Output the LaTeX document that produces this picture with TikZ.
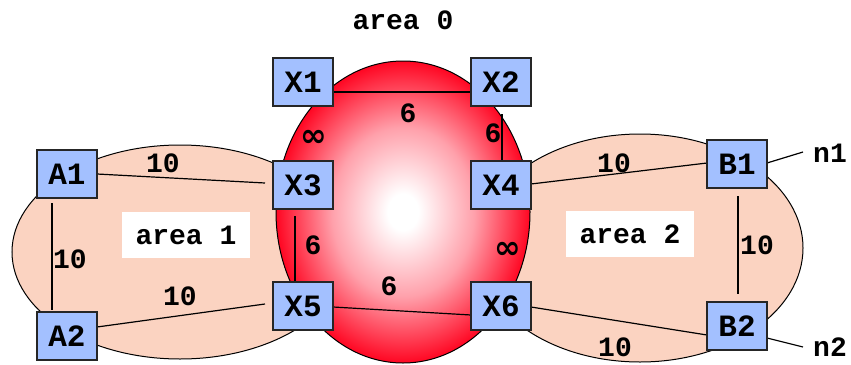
\documentclass[tikz,border=0pt]{standalone}
\usepackage{fontspec}
\setmonofont{Liberation Mono}
\newfontfamily\djv{DejaVu Sans}
\usetikzlibrary{backgrounds}
\definecolor{boxblue}{RGB}{163,192,255}
\definecolor{peach}{RGB}{251,211,193}
\definecolor{mred}{RGB}{255,6,34}
\colorlet{mpink}{mred!38!white}
\pgfdeclareradialshading{areazero}{\pgfpoint{0bp}{0bp}}{color(0bp)=(white); color(3bp)=(white); color(14bp)=(mpink); color(25bp)=(mred); color(50bp)=(mred)}
\tikzset{
  router/.style={draw=black!85, fill=boxblue, line width=1.1pt, minimum width=60pt, minimum height=48pt, inner sep=0pt, font=\ttfamily\bfseries\fontsize{31}{31}\selectfont},
  cost/.style={inner sep=0pt, font=\ttfamily\bfseries\fontsize{28}{28}\selectfont},
  inf/.style={inner sep=0pt, font=\djv\bfseries\fontsize{32}{32}\selectfont},
  arealbl/.style={fill=white, minimum width=128pt, minimum height=46pt, inner sep=0pt, font=\ttfamily\bfseries\fontsize{28}{28}\selectfont},
  link/.style={line width=1.2pt, black},
  areashape/.style={draw=black, line width=1pt, fill=peach}
}
\begin{document}
\begin{tikzpicture}[x=1pt,y=-1pt]
\useasboundingbox (0,0) rectangle (851,364);
% routers
\node[router] (X1) at (303,82) {X1};
\node[router] (X2) at (501,82) {X2};
\node[router] (X3) at (303,185) {X3};
\node[router] (X4) at (501,185) {X4};
\node[router] (X5) at (303,306) {X5};
\node[router] (X6) at (501,306) {X6};
\node[router] (A1) at (67,174) {A1};
\node[router] (A2) at (67,336) {A2};
\node[router] (B1) at (737,164) {B1};
\node[router] (B2) at (737,326) {B2};
\coordinate (n1c) at (803,152);
\coordinate (n2c) at (803,347);
\begin{scope}[on background layer]
% areas
\path[areashape] (180,252) ellipse [x radius=168pt, y radius=107pt];
\path[areashape] (640,248) ellipse [x radius=163pt, y radius=114pt];
\path[draw=black, line width=1pt, shading=areazero] (403,212) ellipse [x radius=127pt, y radius=151pt];
% links
\draw[link] ([shift={(30,0)}]A1.center) -- ([shift={(-38,-2)}]X3.center);
\draw[link] ([shift={(-15,29)}]A1.center) -- ([shift={(-15,-26)}]A2.center);
\draw[link] ([shift={(30,-9)}]A2.center) -- ([shift={(-38,-2)}]X5.center);
\draw[link] ([shift={(30,10)}]X1.center) -- ([shift={(-30,10)}]X2.center);
\draw[link] ([shift={(1,32)}]X2.center) -- ([shift={(1,-23)}]X4.center);
\draw[link] ([shift={(-8,31)}]X3.center) -- ([shift={(-8,-22)}]X5.center);
\draw[link] ([shift={(30,1)}]X5.center) -- ([shift={(-30,9)}]X6.center);
\draw[link] ([shift={(30,-1)}]X4.center) -- ([shift={(-30,-1)}]B1.center);
\draw[link] ([shift={(30,1)}]X6.center) -- ([shift={(-30,9)}]B2.center);
\draw[link] ([shift={(1,32)}]B1.center) -- ([shift={(1,-32)}]B2.center);
\draw[link] ([shift={(30,-1)}]B1.center) -- (n1c);
\draw[link] ([shift={(30,12)}]B2.center) -- (n2c);
\end{scope}
% labels
\node[cost] (a0) at (403,20) {area 0};
\node[arealbl] (a1) at (186,235) {area 1};
\node[arealbl] (a2) at (630,234) {area 2};
% costs
\node[cost] (c1) at (163,163) {10};
\node[cost] (c2) at (70,259) {10};
\node[cost] (c3) at (180,296) {10};
\node[cost] (c4) at (408,113) {6};
\node[cost] (c5) at (493,133) {6};
\node[cost] (c6) at (313,245) {6};
\node[cost] (c7) at (389,286) {6};
\node[inf] (i1) at (314,138) {∞};
\node[inf] (i2) at (508,250) {∞};
\node[cost] (c8) at (614,163) {10};
\node[cost] (c9) at (757,245) {10};
\node[cost] (c10) at (615,347) {10};
\node[cost] (n1) at (830,153) {n1};
\node[cost] (n2) at (830,347) {n2};
\end{tikzpicture}
\end{document}
